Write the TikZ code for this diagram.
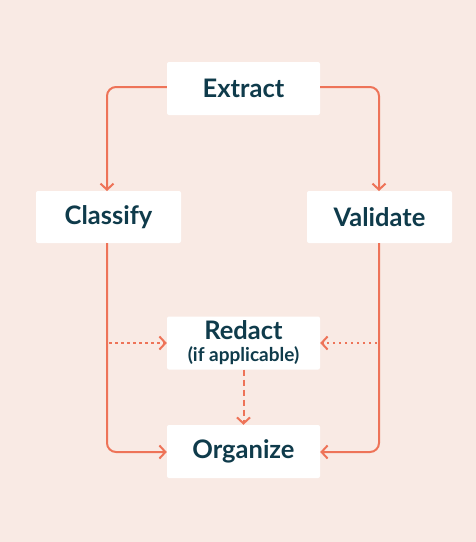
\documentclass[tikz,border=0pt]{standalone}
\usepackage{fontspec}
\setmainfont{Lato}
\usetikzlibrary{arrows.meta}
\definecolor{bg}{HTML}{F9EAE4}
\definecolor{ln}{HTML}{EE7358}
\definecolor{tx}{HTML}{0F3B4B}
\begin{document}
\begin{tikzpicture}[x=1pt,y=-1pt,
  box/.style={fill=white,rounded corners=2pt,minimum width=153pt,minimum height=53pt,inner sep=0pt,text=tx,font=\fontsize{25.5}{27}\selectfont\bfseries,align=center},
  sbox/.style={box,minimum width=145pt,minimum height=52pt},
  conn/.style={draw=ln,line width=2pt,rounded corners=9pt,-{Straight Barb[length=6pt,width=13pt,line width=2pt]}},
  dotconn/.style={conn,dash pattern=on 2.5pt off 3.5pt},
  dashconn/.style={conn,dash pattern=on 6pt off 4pt}]
\fill[bg] (0,0) rectangle (476,542);
\useasboundingbox (0,0) rectangle (476,542);
\node[box] (ex) at (243.5,88.5) {Extract};
\node[sbox] (cl) at (108.5,217) {Classify};
\node[sbox] (va) at (379.5,217) {Validate};
\node[box] (re) at (243.5,343) {Redact\\[-5pt]{\fontsize{19}{20}\selectfont (if applicable)}};
\node[box] (or) at (243.5,451.5) {Organize};
\draw[conn] (ex.west |- 0,87) -- (107,87) -- (107,191);
\draw[conn] (ex.east |- 0,87) -- (379,87) -- (379,191);
\draw[conn] (107,243) -- (107,452) -- (or.west |- 0,452);
\draw[conn] (379,243) -- (379,452) -- (or.east |- 0,452);
\draw[dotconn] (109,343) -- (re.west);
\draw[dotconn] (377,343) -- (re.east);
\draw[dashconn] (re.south) -- (or.north);
\end{tikzpicture}
\end{document}
